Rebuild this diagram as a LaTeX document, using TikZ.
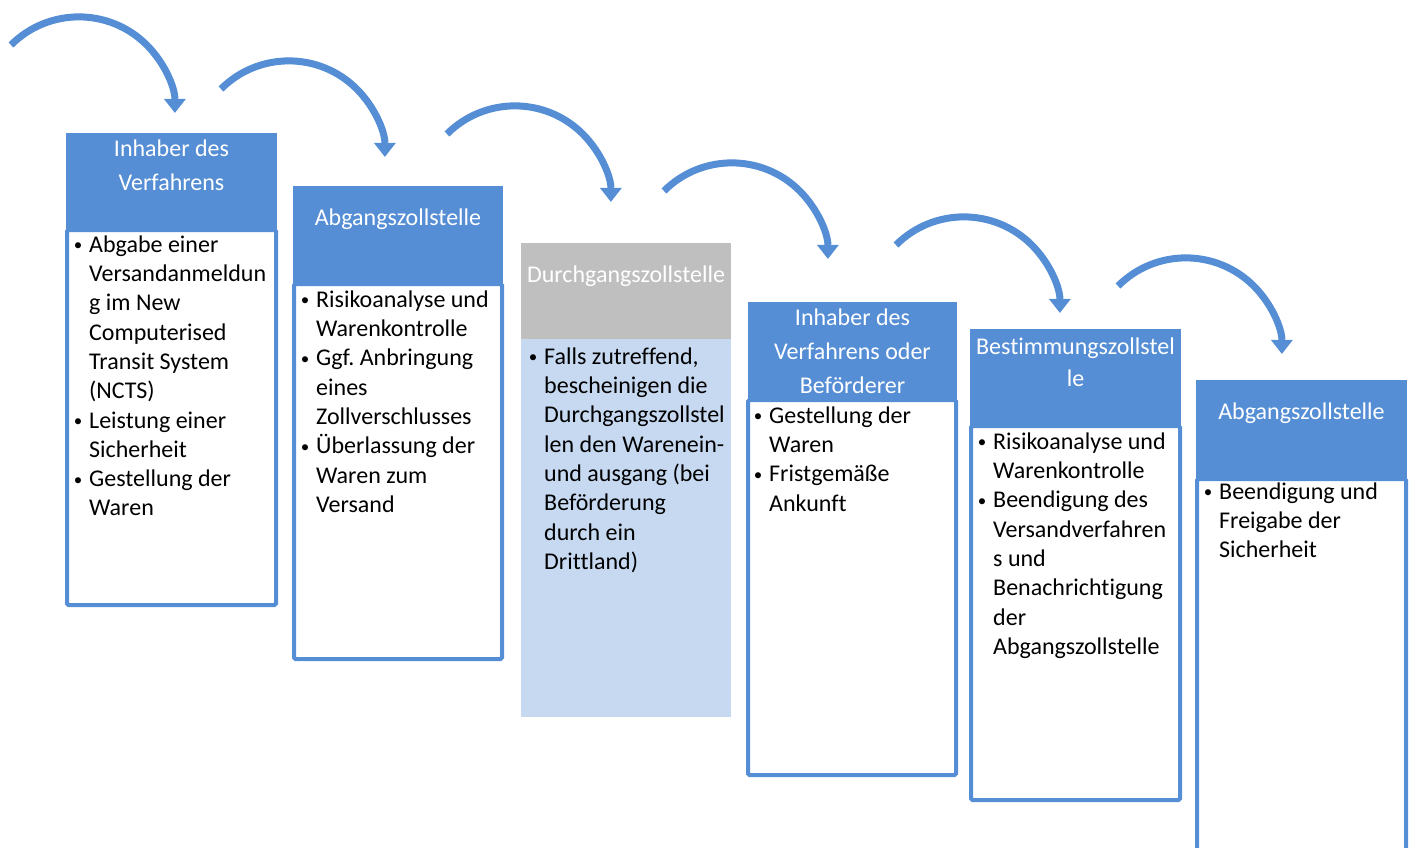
\documentclass[tikz,border=0pt]{standalone}
\usepackage{fontspec}
\setmainfont{Carlito}[Ligatures=NoCommon]
\usetikzlibrary{arrows.meta,calc}
\definecolor{acc}{RGB}{85,142,213}
\definecolor{lgray}{RGB}{191,191,191}
\definecolor{lblue}{RGB}{198,217,241}
\frenchspacing
\newcommand\bul{\llap{\makebox[0pt][c]{\raisebox{1.5pt}{\fontsize{17}{17}\selectfont •}}\hspace{11pt}}}
\newcommand\fl{\rule{0pt}{20pt}}
\tikzset{
  hdr/.style={fill=acc, draw=none, inner sep=0pt, outer sep=0pt, anchor=north west},
  ghdr/.style={fill=lgray, draw=none, inner sep=0pt, outer sep=0pt, anchor=north west},
  bodybox/.style={draw=acc, line width=4pt, fill=white, rounded corners=1.5pt, inner sep=0pt, outer sep=0pt, anchor=north west},
  lbody/.style={fill=lblue, draw=none, inner sep=0pt, outer sep=0pt, anchor=north west},
  htext/.style={text=white, align=center, inner sep=0pt, anchor=north, font=\fontsize{24}{34}\selectfont},
  btext/.style={text=black, align=left, inner sep=0pt, anchor=north west, font=\fontsize{24}{29.3}\selectfont},
  arr/.style={draw=acc, line width=7pt, -{Triangle[width=22pt,length=14pt,line width=0pt]}}
}
\begin{document}
\begin{tikzpicture}[x=1pt,y=-1pt]
\useasboundingbox (0,0) rectangle (1413,848);

% arrows
\coordinate (s1) at (11,45);
\coordinate (s2) at (221,89);
\coordinate (s3) at (447,134);
\coordinate (s4) at (664,191);
\coordinate (s5) at (896,245);
\coordinate (s6) at (1118,286);
\foreach \i in {1,...,6}{
  \draw[arr] (s\i) arc[start angle=135, end angle=0, radius=96pt];
}

% box 1
\node[hdr, minimum width=211pt, minimum height=97pt] (h1) at (66,133) {};
\node[bodybox, minimum width=209pt, minimum height=375pt] (b1) at (67,230) {};
\node[htext] (ht1) at (171.5,136) {\fl Inhaber des\\Verfahrens};
\node[btext] (bt1) at (89,232) {\fl\bul Abgabe einer\\Versandanmeldun\\g im New\\Computerised\\Transit System\\(NCTS)\\\bul Leistung einer\\Sicherheit\\\bul Gestellung der\\Waren};

% box 2
\node[hdr, minimum width=210pt, minimum height=98pt] (h2) at (293,186) {};
\node[bodybox, minimum width=208pt, minimum height=375pt] (b2) at (294,284) {};
\node[htext] (ht2) at (398,205) {\fl Abgangszollstelle};
\node[btext] (bt2) at (316,287) {\fl\bul Risikoanalyse und\\Warenkontrolle\\\bul Ggf. Anbringung\\eines\\Zollverschlusses\\\bul Überlassung der\\Waren zum\\Versand};

% box 3
\node[ghdr, minimum width=210pt, minimum height=96pt] (h3) at (521,243) {};
\node[lbody, minimum width=210pt, minimum height=378pt] (b3) at (521,339) {};
\node[htext] (ht3) at (626,262) {\fl Durchgangszollstelle};
\node[btext] (bt3) at (544,344) {\fl\bul Falls zutreffend,\\bescheinigen die\\Durchgangszollstel\\len den Warenein-\\und ausgang (bei\\Beförderung\\durch ein\\Drittland)};

% box 4
\node[hdr, minimum width=209pt, minimum height=98pt] (h4) at (748,302) {};
\node[bodybox, minimum width=208pt, minimum height=375pt] (b4) at (748,400) {};
\node[htext] (ht4) at (852.5,305) {\fl Inhaber des\\Verfahrens oder\\Beförderer};
\node[btext] (bt4) at (769,403) {\fl\bul Gestellung der\\Waren\\\bul Fristgemäße\\Ankunft};

% box 5
\node[hdr, minimum width=211pt, minimum height=97pt] (h5) at (970,329) {};
\node[bodybox, minimum width=209pt, minimum height=374pt] (b5) at (971,426) {};
\node[htext, font=\fontsize{24}{32}\selectfont] (ht5) at (1075.5,334) {\fl Bestimmungszollstel\\le};
\node[btext] (bt5) at (993,429) {\fl\bul Risikoanalyse und\\Warenkontrolle\\\bul Beendigung des\\Versandverfahren\\s und\\Benachrichtigung\\der\\Abgangszollstelle};

% box 6
\node[hdr, minimum width=211pt, minimum height=99pt] (h6) at (1196,380) {};
\node[bodybox, minimum width=209pt, minimum height=373pt] (b6) at (1197,479) {};
\node[htext] (ht6) at (1301.5,399) {\fl Abgangszollstelle};
\node[btext] (bt6) at (1219,479) {\fl\bul Beendigung und\\Freigabe der\\Sicherheit};
\end{tikzpicture}
\end{document}
